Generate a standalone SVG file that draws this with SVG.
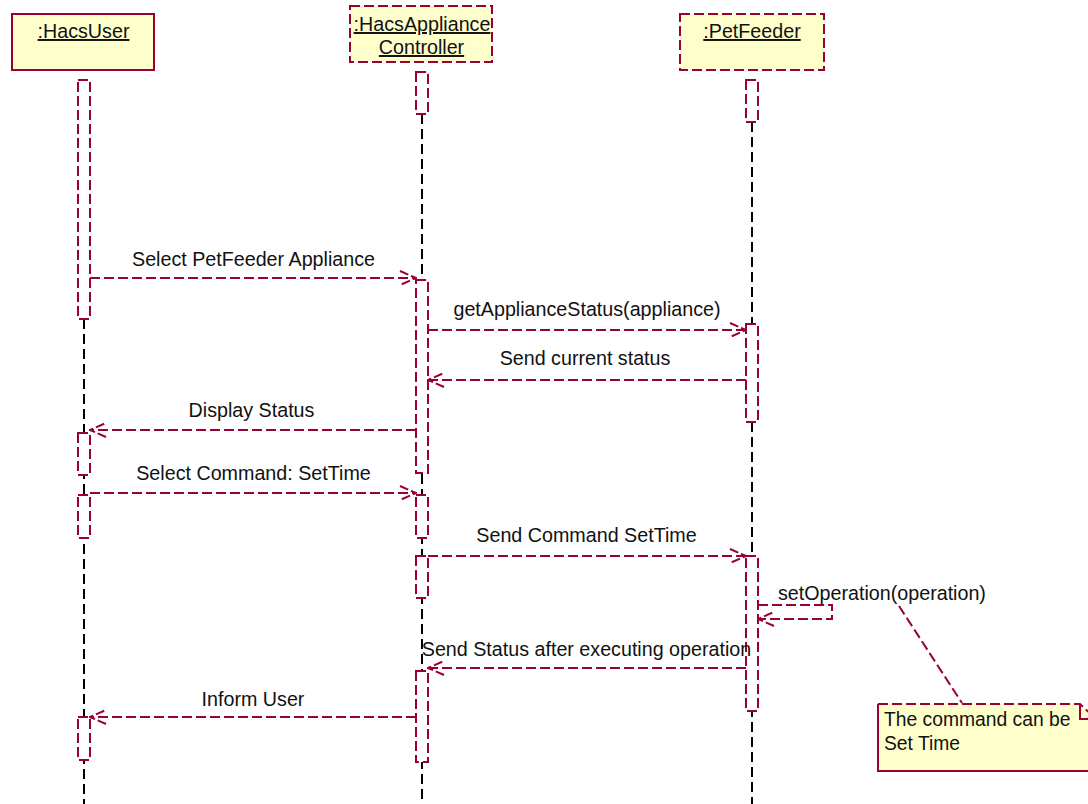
<svg xmlns="http://www.w3.org/2000/svg" width="1088" height="804" viewBox="0 0 1088 804">
  <style>
    text { font-family: "Liberation Sans", Arial, sans-serif; font-size: 19.7px; fill: #111; }
    .lbl { text-anchor: middle; }
    .u { text-decoration: underline; }
    .note { font-size: 19.3px; }
    .box { fill: #FFFFCC; stroke: #990033; stroke-width: 2; }
    .dash { stroke-dasharray: 10 4; }
    .bar { fill: #FFFFFF; stroke: #990033; stroke-width: 2; stroke-dasharray: 10 4; }
    .life { stroke: #000; stroke-width: 2; stroke-dasharray: 10 5; fill: none; }
    .msg { stroke: #990033; stroke-width: 2; stroke-dasharray: 10 4; fill: none; }
  </style>
  <defs>
    <marker id="open" viewBox="0 0 20 16" refX="19" refY="8" markerWidth="20" markerHeight="16" markerUnits="userSpaceOnUse" orient="auto">
      <path d="M3,1 L19,8 L3,15" fill="none" stroke="#990033" stroke-width="2" stroke-dasharray="9 3"/>
    </marker>
  </defs>

  <g id="lifelines">
    <line class="life" x1="84" y1="319" x2="84" y2="804"/>
    <line class="life" x1="422" y1="114" x2="422" y2="804"/>
    <line class="life" x1="752" y1="122" x2="752" y2="804"/>
  </g>

  <g id="HacsUser">
    <rect class="box" x="12" y="14" width="142" height="56"/>
    <text class="lbl u" x="83.5" y="38">:HacsUser</text>
    <rect class="bar" x="78" y="80" width="12" height="239"/>
    <rect class="bar" x="78" y="433" width="12" height="42"/>
    <rect class="bar" x="78" y="495" width="12" height="43"/>
    <rect class="bar" x="78" y="717" width="12" height="43"/>
  </g>

  <g id="HacsApplianceController">
    <rect class="box dash" x="350" y="6" width="142" height="56"/>
    <text class="lbl u" x="422" y="31">:HacsAppliance</text>
    <text class="lbl u" x="421.5" y="54">Controller</text>
    <rect class="bar" x="416" y="72" width="12" height="42"/>
    <rect class="bar" x="416" y="280" width="12" height="193"/>
    <rect class="bar" x="416" y="495" width="12" height="43"/>
    <rect class="bar" x="416" y="556" width="12" height="42"/>
    <rect class="bar" x="416" y="671" width="12" height="91"/>
  </g>

  <g id="PetFeeder">
    <rect class="box dash" x="680" y="14" width="144" height="56"/>
    <text class="lbl u" x="752" y="38">:PetFeeder</text>
    <rect class="bar" x="746" y="80" width="12" height="42"/>
    <rect class="bar" x="746" y="324" width="12" height="98"/>
    <rect class="bar" x="746" y="556" width="12" height="155"/>
  </g>

  <g id="connectors">
    <path class="msg" d="M90,278 H416" marker-end="url(#open)"/>
    <path class="msg" d="M428,330 H746" marker-end="url(#open)"/>
    <path class="msg" d="M746,380 H428" marker-end="url(#open)"/>
    <path class="msg" d="M416,430 H90" marker-end="url(#open)"/>
    <path class="msg" d="M90,493 H416" marker-end="url(#open)"/>
    <path class="msg" d="M428,556 H746" marker-end="url(#open)"/>
    <path class="msg" d="M758,605 H832 V619 H758" marker-end="url(#open)"/>
    <path class="msg" d="M746,668 H428" marker-end="url(#open)"/>
    <path class="msg" d="M416,717 H90" marker-end="url(#open)"/>
    <line class="msg" x1="899" y1="606" x2="962" y2="703"/>
  </g>

  <g id="labels">
    <text class="lbl" x="253.5" y="266">Select PetFeeder Appliance</text>
    <text class="lbl" x="587" y="316">getApplianceStatus(appliance)</text>
    <text class="lbl" x="585" y="365">Send current status</text>
    <text class="lbl" x="251.5" y="417">Display Status</text>
    <text class="lbl" x="253.5" y="480">Select Command: SetTime</text>
    <text class="lbl" x="586.5" y="542">Send Command SetTime</text>
    <text x="778" y="600">setOperation(operation)</text>
    <text class="lbl" x="586.5" y="656">Send Status after executing operation</text>
    <text class="lbl" x="253" y="706">Inform User</text>
  </g>

  <g id="note">
    <path d="M878,704 H1080 L1096,719 V771 H878 Z" fill="#FFFFCC" stroke="none"/>
    <path d="M878,704 H1080 L1096,719" fill="none" stroke="#990033" stroke-width="2" stroke-dasharray="10 4"/>
    <path d="M1080,704 V719 H1096" fill="none" stroke="#990033" stroke-width="2"/>
    <path d="M878,704 V771 H1096" fill="none" stroke="#990033" stroke-width="2"/>
    <text class="note" x="884" y="726">The command can be</text>
    <text class="note" x="884" y="750">Set Time</text>
  </g>
</svg>
